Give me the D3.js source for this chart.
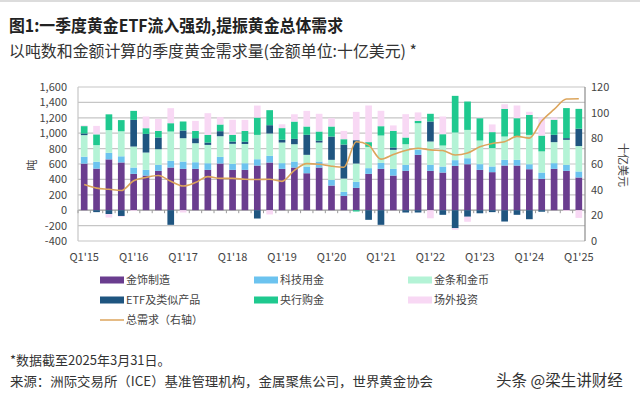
<!DOCTYPE html>
<html>
<head>
<meta charset="utf-8">
<script src="https://cdn.jsdelivr.net/npm/d3@7"></script>
<style>
  body { margin: 0; background: #fff; }
  svg { display: block; font-family: "Noto Sans CJK SC", "Noto Sans", sans-serif; }
</style>
</head>
<body>
<svg id="chart" width="640" height="394"></svg>
<script>
// quarters Q1'15 .. Q1'25
const quarters = ["Q1'15","Q2'15","Q3'15","Q4'15","Q1'16","Q2'16","Q3'16","Q4'16",
  "Q1'17","Q2'17","Q3'17","Q4'17","Q1'18","Q2'18","Q3'18","Q4'18",
  "Q1'19","Q2'19","Q3'19","Q4'19","Q1'20","Q2'20","Q3'20","Q4'20",
  "Q1'21","Q2'21","Q3'21","Q4'21","Q1'22","Q2'22","Q3'22","Q4'22",
  "Q1'23","Q2'23","Q3'23","Q4'23","Q1'24","Q2'24","Q3'24","Q4'24","Q1'25"];

// tonnes
const jewellery = [605,540,660,620,472,450,511,554, 537,537,524,606,524,524,580,619,
  537,554,480,554,320,186,290,472, 537,450,511,719,511,489,576,597,
  524,494,580,580,532,407,537,511,425];
const technology = [90,90,85,80,82,74,78,87, 95,86,86,87,78,86,82,87,
  74,78,87,78,74,52,78,74, 78,87,78,65,78,78,74,78,
  74,74,74,74,65,82,74,78,78];
const barCoin = [280,215,295,325,273,225,203,381, 303,247,238,268,260,250,316,290,
  268,225,152,247,260,173,238,277, 355,247,268,346,303,273,359,368,
  307,238,303,303,381,275,273,325,330];
const etf = [22,-25,-50,-75,346,242,152,-190, 100,65,31,65,30,30,-108,108,
  35,69,260,26,303,442,303,-125, -190,30,-30,-30,260,-60,-234,-85,
  -40,-25,-147,-60,-117,-20,95,22,225];
const centralBanks = [95,140,205,145,117,74,86,108, 117,95,99,87,87,140,225,195,
  152,225,108,117,130,69,-17,61, 121,217,87,30,100,147,476,368,
  290,208,359,238,260,205,195,390,258];
const otc = [10,110,-45,-10,-10,152,156,195, -30,130,282,95,195,143,156,-55,
  50,95,203,230,108,108,368,476, 200,70,303,110,-105,230,-20,-65,
  10,100,60,165,40,235,30,-10,-100];

// total demand, US$bn (right axis)
const totalValue = [44,41.2,40.3,39.3,47,49.5,51,46.5, 42.8,45.5,50.2,48.8,48.8,48.1,47.9,48.1,
  46.5,55,60.3,59.8,58.3,57.5,77.3,74.7, 63.8,67.4,70.5,72.3,71,70.5,67,68.5,
  73.4,76,77.3,81.5,80.2,93.5,102.5,110.6,110.8];

const seriesNames = ["金饰制造","科技用金","金条和金币","ETF及类似产品","央行购金","场外投资"];
const seriesColors = ["#6a3d8f","#6cc3ef","#b4f3d6","#1f5580","#1fc98f","#f8d8f4"];
const lineName = "总需求（右轴）";
const lineColor = "#dca55c";

const leftTicks = [-400,-200,0,200,400,600,800,1000,1200,1400,1600];
const rightTicks = [0,20,40,60,80,100,120];

const svg = d3.select("#chart");
const plot = {left: 78, right: 585, top: 87, bottom: 241};

svg.append("rect").attr("width", 640).attr("height", 2).attr("fill", "#dcdcdc");

// titles
svg.append("text").attr("x", 9).attr("y", 32)
  .attr("font-size", 17).attr("font-weight", "bold").attr("fill", "#222")
  .attr("textLength", 334).attr("lengthAdjust", "spacingAndGlyphs")
  .text("图1:一季度黄金ETF流入强劲,提振黄金总体需求");
svg.append("text").attr("x", 9).attr("y", 57)
  .attr("font-size", 16).attr("fill", "#333")
  .attr("textLength", 408).attr("lengthAdjust", "spacingAndGlyphs")
  .text("以吨数和金额计算的季度黄金需求量(金额单位:十亿美元) *");

// scales
const x = d3.scaleBand().domain(quarters).range([plot.left, plot.right]).paddingInner(0.46).paddingOuter(0.23);
const yL = d3.scaleLinear().domain([-400, 1600]).range([plot.bottom, plot.top]);
const yR = d3.scaleLinear().domain([0, 120]).range([plot.bottom, plot.top]);

// grid
svg.append("g").selectAll("line").data(leftTicks).join("line")
  .attr("x1", plot.left).attr("x2", plot.right)
  .attr("y1", d => yL(d)).attr("y2", d => yL(d))
  .attr("stroke", d => d === 0 ? "#9a9a9a" : "#c6c6c6").attr("stroke-width", 1.2);
svg.append("line").attr("x1", plot.left).attr("x2", plot.left)
  .attr("y1", plot.top).attr("y2", plot.bottom).attr("stroke", "#c6c6c6").attr("stroke-width", 1.2);
svg.append("line").attr("x1", plot.right).attr("x2", plot.right)
  .attr("y1", plot.top).attr("y2", plot.bottom).attr("stroke", "#8c8c8c").attr("stroke-width", 1.2);

// stacked bars
const rows = quarters.map((q, i) => ({
  q: q, s0: jewellery[i], s1: technology[i], s2: barCoin[i], s3: etf[i], s4: centralBanks[i], s5: otc[i]
}));
const stack = d3.stack().keys(["s0","s1","s2","s3","s4","s5"]).offset(d3.stackOffsetDiverging);
const layers = stack(rows);

svg.append("g").selectAll("g").data(layers).join("g")
  .attr("fill", (d, i) => seriesColors[i])
  .selectAll("rect").data(d => d).join("rect")
  .attr("x", d => x(d.data.q))
  .attr("width", x.bandwidth())
  .attr("y", d => yL(Math.max(d[0], d[1])))
  .attr("height", d => Math.abs(yL(d[0]) - yL(d[1])));

// small ticks on the zero line between bars
const step = x.step();
svg.append("g").selectAll("line").data(d3.range(quarters.length + 1)).join("line")
  .attr("x1", i => plot.left + i * (plot.right - plot.left) / quarters.length)
  .attr("x2", i => plot.left + i * (plot.right - plot.left) / quarters.length)
  .attr("y1", yL(0)).attr("y2", yL(0) + 3)
  .attr("stroke", "#9a9a9a");

// total demand line
const line = d3.line().x((d, i) => x(quarters[i]) + x.bandwidth() / 2).y(d => yR(d)).curve(d3.curveMonotoneX);
svg.append("path").datum(totalValue).attr("d", line)
  .attr("fill", "none").attr("stroke", lineColor).attr("stroke-width", 1.6);

// axes
const leftAxis = svg.append("g").attr("transform", "translate(" + plot.left + ",0)")
  .call(d3.axisLeft(yL).tickValues(leftTicks).tickSize(0).tickPadding(11)
    .tickFormat(d => d3.format(",")(d).replace("−", "-")));
const rightAxis = svg.append("g").attr("transform", "translate(" + plot.right + ",0)")
  .call(d3.axisRight(yR).tickValues(rightTicks).tickSize(0).tickPadding(6));
const bottomAxis = svg.append("g").attr("transform", "translate(0," + plot.bottom + ")")
  .call(d3.axisBottom(x).tickValues(quarters.filter(q => q.startsWith("Q1"))).tickSize(0).tickPadding(12));
[leftAxis, rightAxis, bottomAxis].forEach(a => {
  a.select(".domain").remove();
  a.selectAll("text").attr("font-size", 11).attr("fill", "#444")
    .attr("font-family", "\"Noto Sans CJK SC\", sans-serif");
});

svg.append("text").attr("transform", "translate(36,165) rotate(-90)")
  .attr("text-anchor", "middle").attr("font-size", 11).attr("fill", "#444").text("吨");
svg.append("text").attr("transform", "translate(619,165) rotate(90)")
  .attr("text-anchor", "middle").attr("font-size", 11).attr("fill", "#444").text("十亿美元");

// legend
const legendCols = [100, 254, 408];
const legendRows = [280, 300, 320];
seriesNames.forEach((name, i) => {
  const lx = legendCols[i % 3], ly = legendRows[Math.floor(i / 3)];
  svg.append("rect").attr("x", lx).attr("y", ly - 3.5).attr("width", 24).attr("height", 7)
    .attr("fill", seriesColors[i]);
  svg.append("text").attr("x", lx + 26).attr("y", ly + 4)
    .attr("font-size", 11).attr("fill", "#444").text(name);
});
svg.append("line").attr("x1", legendCols[0]).attr("x2", legendCols[0] + 24)
  .attr("y1", legendRows[2]).attr("y2", legendRows[2])
  .attr("stroke", lineColor).attr("stroke-width", 1.5);
svg.append("text").attr("x", legendCols[0] + 26).attr("y", legendRows[2] + 4)
  .attr("font-size", 11).attr("fill", "#444").text(lineName);

// notes
svg.append("text").attr("x", 10).attr("y", 365).attr("font-size", 13).attr("fill", "#333")
  .text("*数据截至2025年3月31日。");
svg.append("text").attr("x", 10).attr("y", 386).attr("font-size", 13).attr("fill", "#333")
  .attr("textLength", 423).attr("lengthAdjust", "spacingAndGlyphs")
  .text("来源：洲际交易所（ICE）基准管理机构，金属聚焦公司，世界黄金协会");
svg.append("text").attr("x", 496).attr("y", 386).attr("font-size", 15.5).attr("fill", "#333")
  .text("头条 @梁生讲财经");
</script>
</body>
</html>
